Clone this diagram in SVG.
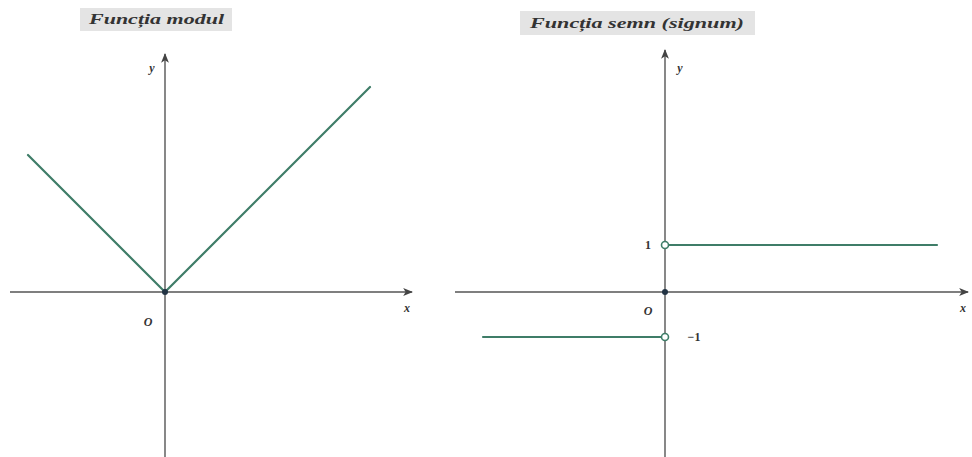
<svg xmlns="http://www.w3.org/2000/svg" width="972" height="457" viewBox="0 0 972 457">
<style>
.axis{stroke:#555;stroke-width:1.4;fill:none}
.fn{stroke:#3f7d68;stroke-width:2.2;fill:none;stroke-linecap:round}
.lbl{font-family:"Liberation Serif",serif;font-style:italic;font-weight:bold;font-size:12px;fill:#333}
.num{font-family:"Liberation Serif",serif;font-weight:bold;font-size:12px;fill:#333}
.ttl{font-family:"Liberation Serif",serif;font-style:italic;font-weight:bold;font-size:14px;fill:#333}
.box{fill:#e4e4e4}
</style>
<defs>
<marker id="ar" viewBox="0 0 10 10" refX="9" refY="5" markerWidth="7" markerHeight="7" orient="auto">
<path d="M0,1 L10,5 L0,9 L2.5,5 Z" fill="#444"/>
</marker>
</defs>
<g id="title-left">
<rect class="box" x="80" y="8" width="152" height="23"/>
<text class="ttl" x="89" y="24" textLength="135" lengthAdjust="spacingAndGlyphs">Funcția modul</text>
</g>
<g id="title-right">
<rect class="box" x="520" y="11" width="235" height="24"/>
<text class="ttl" x="530" y="28" textLength="214" lengthAdjust="spacingAndGlyphs">Funcția semn (signum)</text>
</g>
<g id="connectors">
<line class="axis" x1="165" y1="457" x2="165" y2="54" marker-end="url(#ar)"/>
<line class="axis" x1="10" y1="292" x2="412" y2="292" marker-end="url(#ar)"/>
<line class="axis" x1="665" y1="457" x2="665" y2="50" marker-end="url(#ar)"/>
<line class="axis" x1="455" y1="292" x2="968" y2="292" marker-end="url(#ar)"/>
<polyline class="fn" points="28,155 165,292 370,87"/>
<line class="fn" x1="669" y1="245" x2="937" y2="245"/>
<line class="fn" x1="483" y1="337" x2="661" y2="337"/>
</g>
<g id="left-labels">
<text class="lbl" x="152" y="72" text-anchor="middle">y</text>
<text class="lbl" x="148" y="326" text-anchor="middle">O</text>
<text class="lbl" x="407" y="312" text-anchor="middle">x</text>
<circle cx="165" cy="292" r="3" fill="#234"/>
</g>
<g id="right-labels">
<text class="lbl" x="680" y="72" text-anchor="middle">y</text>
<text class="lbl" x="648" y="315" text-anchor="middle">O</text>
<text class="lbl" x="963" y="312" text-anchor="middle">x</text>
<text class="num" x="648" y="249" text-anchor="middle">1</text>
<text class="num" x="694" y="341" text-anchor="middle">−1</text>
<circle cx="665" cy="292" r="3" fill="#234"/>
<circle cx="665" cy="245" r="3.5" fill="#fff" stroke="#3f7d68" stroke-width="1.6"/>
<circle cx="665" cy="337" r="3.5" fill="#fff" stroke="#3f7d68" stroke-width="1.6"/>
</g>
</svg>
